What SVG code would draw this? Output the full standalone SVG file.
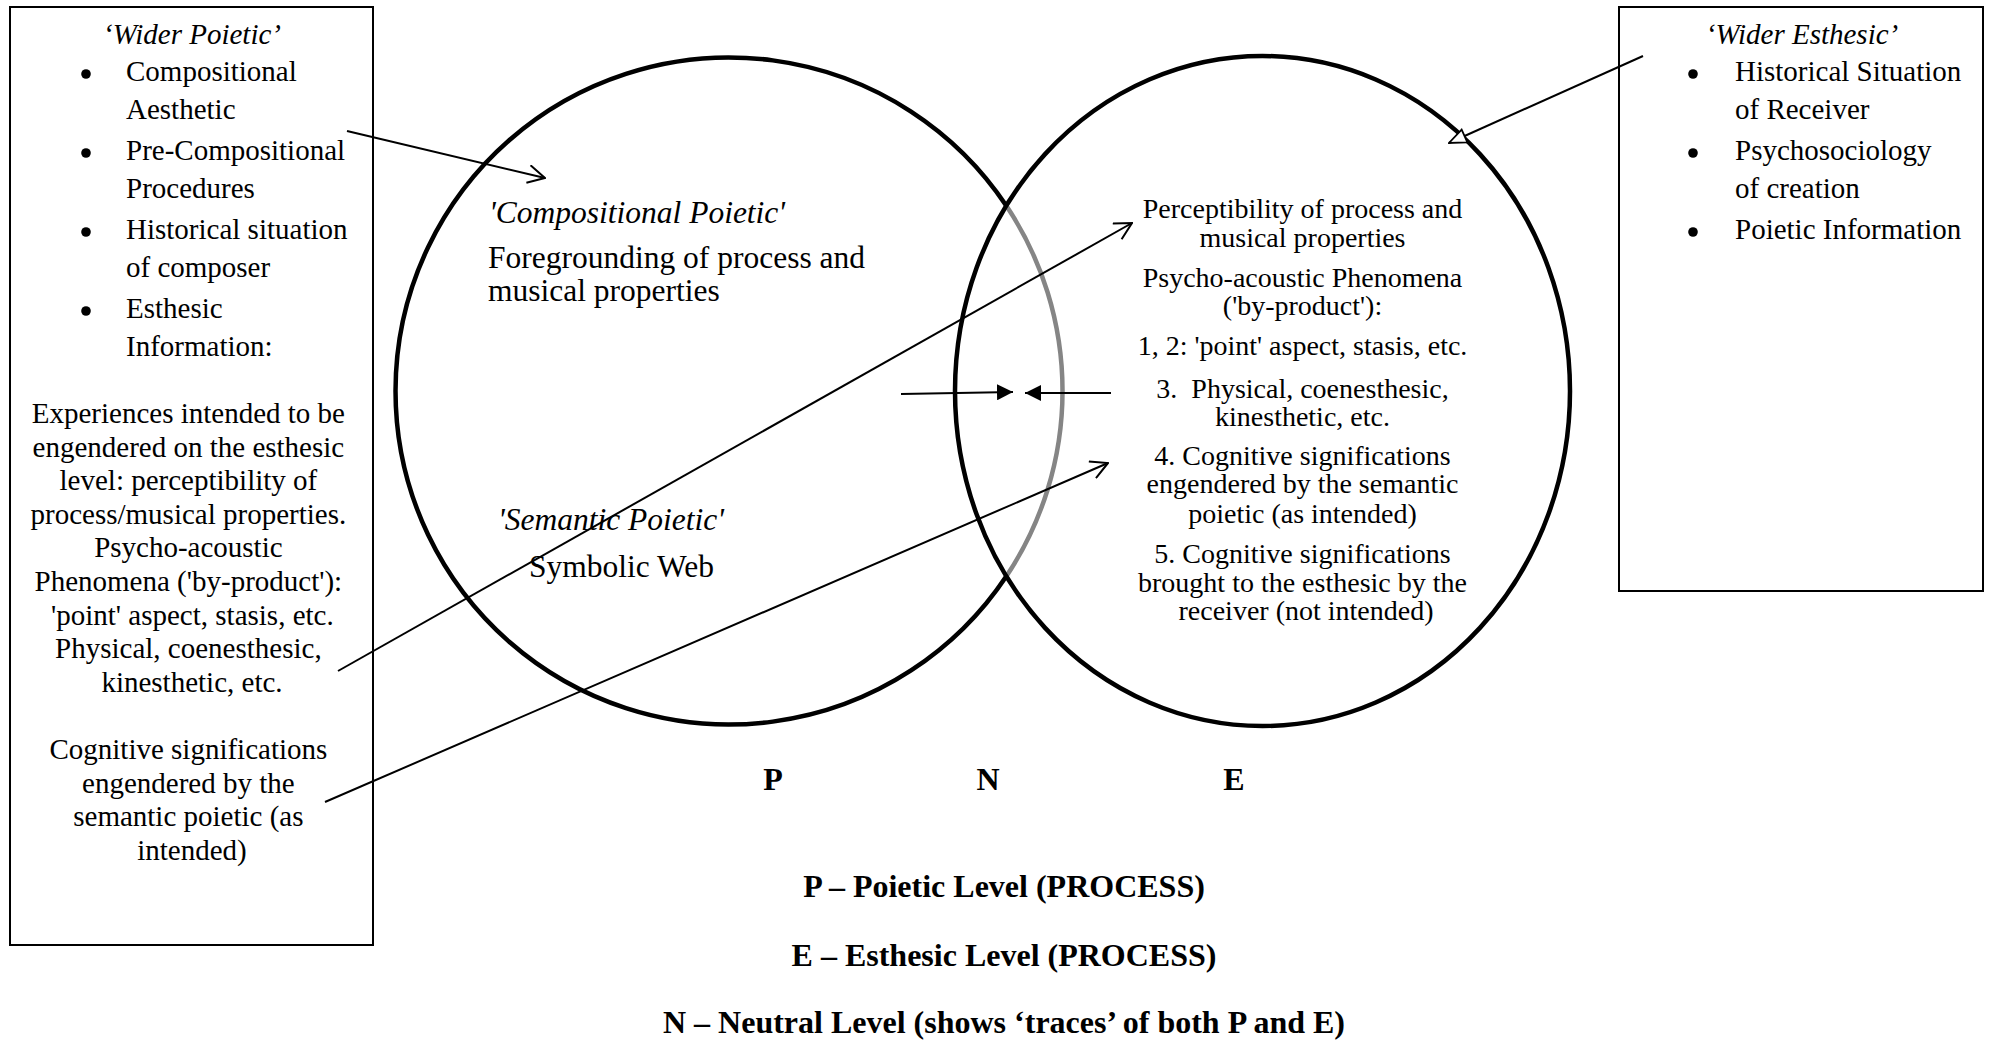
<svg xmlns="http://www.w3.org/2000/svg" width="1991" height="1040" viewBox="0 0 1991 1040">
  <style>
    text { font-family: "Liberation Serif", "Times New Roman", serif; fill: #000; }
    .box { fill: #fff; stroke: #000; stroke-width: 2; }
    .ring { fill: none; stroke: #000; stroke-width: 4.5; }
    .ring-grey { fill: none; stroke: #858585; stroke-width: 4.5; }
    .t29 { font-size: 29px; }
    .t31 { font-size: 31.5px; }
    .t28 { font-size: 28px; }
    .it { font-style: italic; }
    .mid { text-anchor: middle; }
    .bold { font-weight: bold; font-size: 32px; }
    .wire { fill: none; stroke: #000; stroke-width: 2; }
  </style>
  <defs>
    <marker id="open-v" viewBox="0 0 20 20" refX="19" refY="10" markerWidth="20" markerHeight="20" markerUnits="userSpaceOnUse" orient="auto">
      <path d="M2,1 L19,10 L2,19" fill="none" stroke="#000" stroke-width="2"/>
    </marker>
    <marker id="solid" viewBox="0 0 16 16" refX="16" refY="8" markerWidth="16" markerHeight="16" markerUnits="userSpaceOnUse" orient="auto">
      <path d="M0,0 L16,8 L0,16 Z" fill="#000"/>
    </marker>
    <marker id="hollow" viewBox="0 0 20 20" refX="19" refY="10" markerWidth="20" markerHeight="20" markerUnits="userSpaceOnUse" orient="auto">
      <path d="M2,3 L19,10 L2,17 Z" fill="#fff" stroke="#000" stroke-width="1.8"/>
    </marker>
  </defs>

  <!-- Wider Poietic box -->
  <g id="wider-poietic">
    <rect class="box" x="10" y="7" width="363" height="938"/>
    <text class="t29 it mid" x="192" y="44">‘Wider Poietic’</text>
    <circle cx="86" cy="74" r="4.8"/>
    <text class="t29" x="126" y="81">Compositional</text>
    <text class="t29" x="126" y="118.5">Aesthetic</text>
    <circle cx="86" cy="153" r="4.8"/>
    <text class="t29" x="126" y="160">Pre-Compositional</text>
    <text class="t29" x="126" y="197.5">Procedures</text>
    <circle cx="86" cy="232" r="4.8"/>
    <text class="t29" x="126" y="239">Historical situation</text>
    <text class="t29" x="126" y="276.5">of composer</text>
    <circle cx="86" cy="311" r="4.8"/>
    <text class="t29" x="126" y="318">Esthesic</text>
    <text class="t29" x="126" y="355.5">Information:</text>
    <text class="t29 mid" x="192">
      <tspan x="192" y="423">Experiences intended to be</tspan>
      <tspan x="192" y="456.6">engendered on the esthesic</tspan>
      <tspan x="192" y="490">level: perceptibility of</tspan>
      <tspan x="192" y="524">process/musical properties.</tspan>
      <tspan x="192" y="557.4">Psycho-acoustic</tspan>
      <tspan x="192" y="591">Phenomena ('by-product'):</tspan>
      <tspan x="196" y="624.6">'point' aspect, stasis, etc.</tspan>
      <tspan x="192" y="658">Physical, coenesthesic,</tspan>
      <tspan x="192" y="692">kinesthetic, etc.</tspan>
    </text>
    <text class="t29 mid" x="192">
      <tspan x="192" y="759">Cognitive significations</tspan>
      <tspan x="192" y="792.6">engendered by the</tspan>
      <tspan x="192" y="826">semantic poietic (as</tspan>
      <tspan x="192" y="860">intended)</tspan>
    </text>
  </g>

  <!-- Wider Esthesic box -->
  <g id="wider-esthesic">
    <rect class="box" x="1619" y="7" width="364" height="584"/>
    <text class="t29 it mid" x="1802" y="44">‘Wider Esthesic’</text>
    <circle cx="1693" cy="74" r="4.8"/>
    <text class="t29" x="1735" y="81">Historical Situation</text>
    <text class="t29" x="1735" y="119">of Receiver</text>
    <circle cx="1693" cy="153" r="4.8"/>
    <text class="t29" x="1735" y="160">Psychosociology</text>
    <text class="t29" x="1735" y="198">of creation</text>
    <circle cx="1693" cy="232" r="4.8"/>
    <text class="t29" x="1735" y="239">Poietic Information</text>
  </g>

  <!-- Poietic circle: the part inside the esthesic circle is grey -->
  <g id="poietic-circle">
    <path class="ring" d="M1006.5,206 A333.5,333.5 0 1 0 1006.5,576"/>
    <path class="ring-grey" d="M1006.5,206 A333.5,333.5 0 0 1 1006.5,576"/>
    <text class="t31 it" x="489" y="223">'Compositional Poietic'</text>
    <text class="t31" x="488" y="268">Foregrounding of process and</text>
    <text class="t31" x="488" y="301">musical properties</text>
    <text class="t31 it" x="498" y="530">'Semantic Poietic'</text>
    <text class="t31" x="529" y="577">Symbolic Web</text>
  </g>

  <!-- Esthesic circle -->
  <g id="esthesic-circle">
    <ellipse class="ring" cx="1262.5" cy="391" rx="307.5" ry="335"/>
    <text class="t28 mid" x="1306">
      <tspan x="1306" y="218">Perceptibility of process and</tspan>
      <tspan x="1306" y="247">musical properties</tspan>
      <tspan x="1306" y="287">Psycho-acoustic Phenomena</tspan>
      <tspan x="1306" y="315">('by-product'):</tspan>
      <tspan x="1306" y="355">1, 2: 'point' aspect, stasis, etc.</tspan>
      <tspan x="1306" y="398">3.&#160; Physical, coenesthesic,</tspan>
      <tspan x="1306" y="426">kinesthetic, etc.</tspan>
      <tspan x="1306" y="465">4. Cognitive significations</tspan>
      <tspan x="1306" y="493">engendered by the semantic</tspan>
      <tspan x="1306" y="523">poietic (as intended)</tspan>
      <tspan x="1306" y="563">5. Cognitive significations</tspan>
      <tspan x="1306" y="592">brought to the esthesic by the</tspan>
      <tspan x="1306" y="620">receiver (not intended)</tspan>
    </text>
  </g>

  <!-- Level letters and key -->
  <g id="levels">
    <text class="bold mid" x="773" y="790">P</text>
    <text class="bold mid" x="988" y="790">N</text>
    <text class="bold mid" x="1234" y="790">E</text>
  </g>
  <g id="key">
    <text class="bold mid" x="1004" y="897">P – Poietic Level (PROCESS)</text>
    <text class="bold mid" x="1004" y="966">E – Esthesic Level (PROCESS)</text>
    <text class="bold mid" x="1004" y="1033">N – Neutral Level (shows ‘traces’ of both P and E)</text>
  </g>

  <!-- Connectors -->
  <g id="connectors">
    <line class="wire" x1="347" y1="131" x2="545" y2="178" marker-end="url(#open-v)"/>
    <line class="wire" x1="338" y1="671" x2="1132" y2="223" marker-end="url(#open-v)"/>
    <line class="wire" x1="325" y1="802" x2="1108" y2="463" marker-end="url(#open-v)"/>
    <line class="wire" x1="1643" y1="56" x2="1449" y2="143" marker-end="url(#hollow)"/>
    <line class="wire" x1="901" y1="394" x2="1013" y2="392" marker-end="url(#solid)"/>
    <line class="wire" x1="1111" y1="393" x2="1025" y2="393" marker-end="url(#solid)"/>
  </g>
</svg>
